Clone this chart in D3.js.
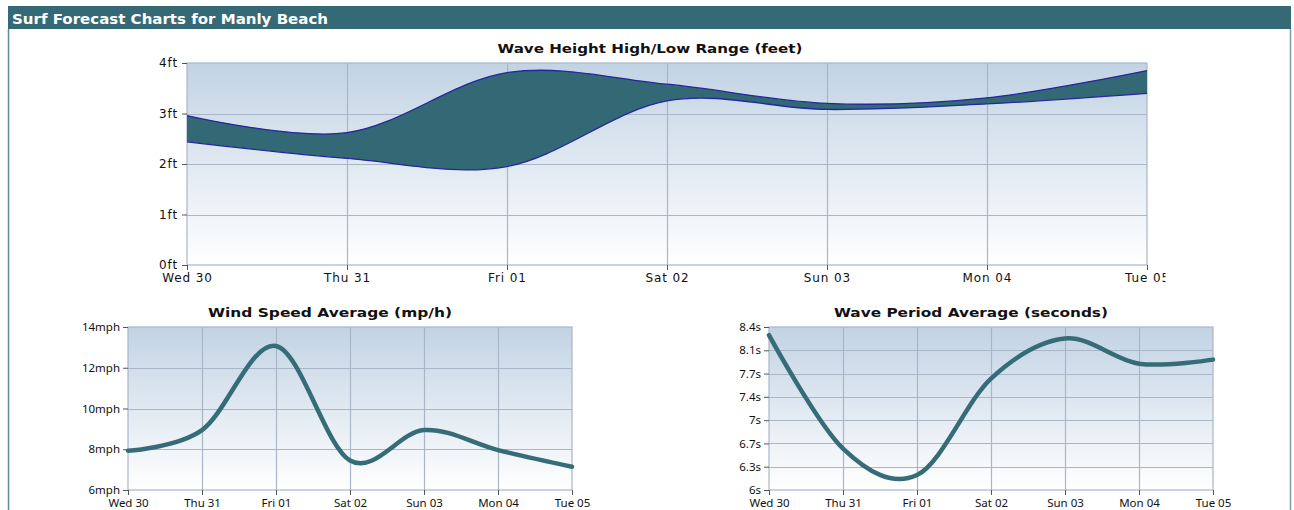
<!DOCTYPE html>
<html><head><meta charset="utf-8">
<script src="https://cdn.jsdelivr.net/npm/d3@7"></script>
<style>body{margin:0;background:#fff;overflow:hidden}</style>
</head><body><svg id="c" width="1294" height="510"></svg>
<script>
// ---- data ----
const days = ["Wed 30","Thu 31","Fri 01","Sat 02","Sun 03","Mon 04","Tue 05"];
const waveHigh = [2.96, 2.62, 3.81, 3.58, 3.20, 3.31, 3.85];
const waveLow  = [2.44, 2.11, 1.95, 3.25, 3.08, 3.19, 3.40];
const windAvg  = [7.93, 8.94, 13.07, 7.45, 8.94, 7.96, 7.14];
const periodAvg = [8.28, 6.61, 6.22, 7.64, 8.23, 7.86, 7.92];
const waveTickLabels = ["0ft","1ft","2ft","3ft","4ft"];
const windTickLabels = ["6mph","8mph","10mph","12mph","14mph"];
const periodTickLabels = ["6s","6.3s","6.7s","7s","7.4s","7.7s","8.1s","8.4s"];
const headerTitle = "Surf Forecast Charts for Manly Beach";
const titles = ["Wave Height High/Low Range (feet)","Wind Speed Average (mp/h)","Wave Period Average (seconds)"];

const svg = d3.select("#c");
const defs = svg.append("defs");
const grad = defs.append("linearGradient").attr("id","bg").attr("x1",0).attr("y1",0).attr("x2",0).attr("y2",1);
grad.append("stop").attr("offset","0%").attr("stop-color","#c2d3e4");
grad.append("stop").attr("offset","100%").attr("stop-color","#ffffff");
defs.append("clipPath").attr("id","topclip").append("rect").attr("x",0).attr("y",30).attr("width",1165.5).attr("height",270);

// panel frame
svg.append("rect").attr("x",8).attr("y",6).attr("width",1283).attr("height",23).attr("fill","#356976");
svg.append("line").attr("x1",8.5).attr("x2",8.5).attr("y1",29).attr("y2",510).attr("stroke","#5d8c96").attr("stroke-width",1.5);
svg.append("line").attr("x1",1290.5).attr("x2",1290.5).attr("y1",29).attr("y2",510).attr("stroke","#7f9fa8").attr("stroke-width",1.5);
svg.append("text").attr("x",12).attr("y",23.5).attr("fill","#fff")
  .attr("font-family","DejaVu Sans, Verdana, sans-serif").attr("font-weight","bold").attr("font-size",14)
  .attr("textLength",316).attr("lengthAdjust","spacingAndGlyphs").text(headerTitle);

const grid = "#a9b6c8";

function chart(o) {
  const g = svg.append("g");
  if (o.clip) g.attr("clip-path", o.clip);
  const x = d3.scalePoint().domain(days).range([o.x0, o.x1]);
  const y = d3.scaleLinear().domain(o.domain).range([o.y1, o.y0]);
  g.append("rect").attr("x",o.x0).attr("y",o.y0).attr("width",o.x1-o.x0).attr("height",o.y1-o.y0).attr("fill","url(#bg)");
  // grid
  g.selectAll(".hg").data(o.ticks.slice(1,-1)).join("line")
    .attr("x1",o.x0).attr("x2",o.x1).attr("y1",d=>Math.round(y(d))+0.5).attr("y2",d=>Math.round(y(d))+0.5)
    .attr("stroke",grid).attr("stroke-width",1.2);
  g.selectAll(".vg").data(days.slice(1,-1)).join("line")
    .attr("y1",o.y0).attr("y2",o.y1).attr("x1",d=>Math.round(x(d))+0.5).attr("x2",d=>Math.round(x(d))+0.5)
    .attr("stroke",grid).attr("stroke-width",1.2);
  g.append("rect").attr("x",o.x0).attr("y",o.y0).attr("width",o.x1-o.x0).attr("height",o.y1-o.y0)
    .attr("fill","none").attr("stroke",grid).attr("stroke-width",1.2);
  // axes
  const ya = d3.axisLeft(y).tickValues(o.ticks).tickFormat((d,i)=>o.labels[i]).tickSize(5).tickPadding(o.tp);
  const ay = g.append("g").attr("transform",`translate(${o.x0},0)`).call(ya);
  const xa = d3.axisBottom(x).tickSize(5).tickPadding(o.txp);
  const ax = g.append("g").attr("transform",`translate(0,${o.y1})`).call(xa);
  [ay, ax].forEach(a=>{
    a.select(".domain").remove();
    a.selectAll(".tick line").attr("stroke","#555");
    a.selectAll("text").attr("fill","#111").attr("font-family",o.font).attr("font-size",o.fs).attr("letter-spacing",o.ls);
  });
  ay.selectAll(".tick text").attr("dy", o.ydy);
  ax.selectAll(".tick text").attr("dy", o.xdy);
  g.append("text").attr("x",o.tx).attr("y",o.ty).attr("text-anchor","middle")
    .attr("font-family","DejaVu Sans, Verdana, sans-serif").attr("font-weight","bold").attr("font-size",13).attr("fill","#111")
    .attr("textLength",o.tl).attr("lengthAdjust","spacingAndGlyphs").text(o.title);
  return {g,x,y};
}

const curve = d3.curveCardinal.tension(0);

// top chart
const waveChart = chart({x0:187,x1:1147,y0:63,y1:265,domain:[0,4],ticks:[0,1,2,3,4],labels:waveTickLabels,
  font:"DejaVu Sans, Verdana, sans-serif",fs:12,ls:0.9,tp:4,txp:3,ydy:"0.32em",xdy:"0.71em",
  title:titles[0],tx:650,ty:53,tl:305,clip:"url(#topclip)"});
const idx = d3.range(days.length);
waveChart.g.append("path").datum(idx)
  .attr("d",d3.area().x(i=>waveChart.x(days[i])).y0(i=>waveChart.y(waveLow[i])).y1(i=>waveChart.y(waveHigh[i])).curve(curve))
  .attr("fill","#336875");
[waveHigh, waveLow].forEach(s=>{
  waveChart.g.append("path").datum(idx)
    .attr("d",d3.line().x(i=>waveChart.x(days[i])).y(i=>waveChart.y(s[i])).curve(curve))
    .attr("fill","none").attr("stroke","#2626a0").attr("stroke-width",1.3);
});

// wind chart
const windChart = chart({x0:128,x1:572,y0:327,y1:490,domain:[6,14],ticks:[6,8,10,12,14],labels:windTickLabels,
  font:"Noto Sans, Tahoma, sans-serif",fs:11.5,ls:0,tp:3,txp:3.5,ydy:"0.32em",xdy:"0.71em",
  title:titles[1],tx:330,ty:317,tl:244});
windChart.g.append("path").datum(idx)
  .attr("d",d3.line().x(i=>windChart.x(days[i])).y(i=>windChart.y(windAvg[i])).curve(curve))
  .attr("fill","none").attr("stroke","#356c77").attr("stroke-width",4.5).attr("stroke-linecap","round");

// period chart
const periodTicks = d3.range(periodTickLabels.length).map(i=>6 + i*(8.4-6)/(periodTickLabels.length-1));
const perChart = chart({x0:769,x1:1213,y0:327,y1:490,domain:[6,8.4],ticks:periodTicks,labels:periodTickLabels,
  font:"Noto Sans, Tahoma, sans-serif",fs:11.5,ls:0,tp:3,txp:3.5,ydy:"0.32em",xdy:"0.71em",
  title:titles[2],tx:971,ty:317,tl:274});
perChart.g.append("path").datum(idx)
  .attr("d",d3.line().x(i=>perChart.x(days[i])).y(i=>perChart.y(periodAvg[i])).curve(curve))
  .attr("fill","none").attr("stroke","#356c77").attr("stroke-width",4.5).attr("stroke-linecap","round");
</script></body></html>
